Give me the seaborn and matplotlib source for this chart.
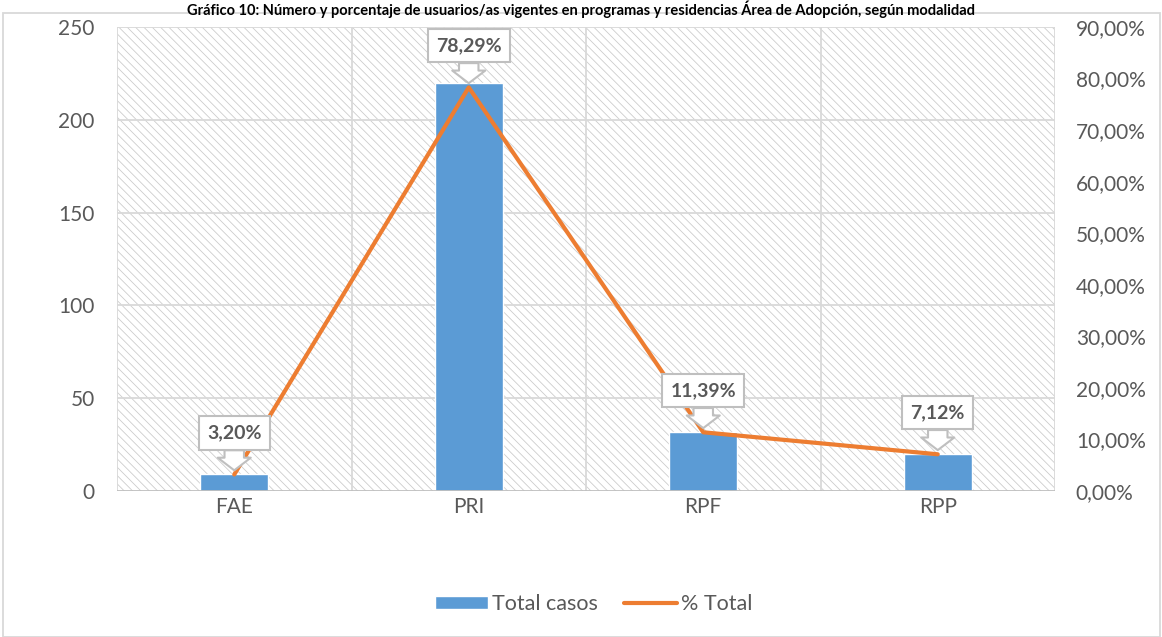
import numpy as np
import matplotlib
matplotlib.use("Agg")
import matplotlib.pyplot as plt
import seaborn as sns
from matplotlib.patches import Rectangle
from matplotlib.ticker import FuncFormatter

# datos
categorias = ["FAE", "PRI", "RPF", "RPP"]
total_casos = [9, 220, 32, 20]
pct_total = [3.20, 78.29, 11.39, 7.12]
etiquetas = ["3,20%", "78,29%", "11,39%", "7,12%"]

titulo = ("Gráfico 10: Número y porcentaje de usuarios/as vigentes en programas "
          "y residencias Área de Adopción, según modalidad")

sns.set_style("white")
plt.rcParams['font.family'] = ['Lato', 'DejaVu Sans']
plt.rcParams['hatch.linewidth'] = 0.6
plt.rcParams['hatch.color'] = '#CCCCCC'

azul = '#5B9BD5'
naranja = '#ED7D31'
gris_txt = '#595959'
gris_linea = '#D9D9D9'

fig = plt.figure(figsize=(11.62, 6.37), dpi=100)
ax = fig.add_axes([117/1162, 1-491/637, (1055-117)/1162, (491-27)/637])

# fondo rayado
ax.patch.set_facecolor('white')
ax.add_patch(Rectangle((0, 0), 1, 1, transform=ax.transAxes, facecolor='white',
                       edgecolor='#CCCCCC', hatch='\\\\\\\\', lw=0, zorder=0))

x = np.arange(len(categorias))
sns.barplot(x=x, y=total_casos, color=azul, width=0.29, saturation=1,
            ax=ax, zorder=3, label='Total casos')
if ax.get_legend() is not None:
    ax.get_legend().remove()
ax.set_xlim(-0.5, 3.5)
ax.set_ylim(0, 250)
ax.set_yticks(range(0, 251, 50))
ax.set_xticks(x)
ax.set_xticklabels(categorias)

# cuadricula
for yv in range(50, 251, 50):
    ax.axhline(yv, color=gris_linea, lw=1.3, zorder=1)
for xv in [-0.5, 0.5, 1.5, 2.5, 3.5]:
    ax.axvline(xv, color=gris_linea, lw=1.3, zorder=1)
for s in ax.spines.values():
    s.set_visible(False)
ax.axhline(0, color='#BFBFBF', lw=1.3, zorder=4)

ax.tick_params(axis='both', length=0, labelsize=15, colors=gris_txt)
ax.tick_params(axis='y', pad=16)
ax.tick_params(axis='x', pad=4)

ax2 = ax.twinx()
sns.lineplot(x=x, y=pct_total, color=naranja, lw=3, ax=ax2, zorder=5,
             label='% Total', legend=False, solid_capstyle='round')
ax2.set_ylim(0, 90)
ax2.set_yticks(range(0, 91, 10))
ax2.yaxis.set_major_formatter(FuncFormatter(lambda v, p: f"{v:.2f}%".replace('.', ',')))
ax2.tick_params(axis='y', length=0, labelsize=15, colors=gris_txt, pad=15)
for s in ax2.spines.values():
    s.set_visible(False)

for xi, yi, lab in zip(x, pct_total, etiquetas):
    ax2.annotate(lab, xy=(xi, yi), xytext=(0, 30), textcoords='offset points',
                 ha='center', va='center', fontsize=14, fontweight='bold',
                 color=gris_txt, zorder=6,
                 bbox=dict(boxstyle='square,pad=0.42', fc='white', ec='#BFBFBF', lw=1.5),
                 arrowprops=dict(arrowstyle='simple,head_length=0.65,head_width=1.7,tail_width=1.0',
                                 fc='white', ec='#BFBFBF', lw=1.5, shrinkA=0, shrinkB=3))

# leyenda
h1, l1 = ax.get_legend_handles_labels()
h2, l2 = ax2.get_legend_handles_labels()
fig.legend(h1 + h2, l1 + l2, loc='center', bbox_to_anchor=(594/1162, 1-604/637),
           ncol=2, frameon=False, fontsize=15.5, handlelength=2.45, handleheight=0.55,
           handletextpad=0.2, columnspacing=1.2, labelcolor=gris_txt)

# marco del grafico
fig.add_artist(Rectangle((3/1162, 0), 1157/1162, 1-13/637, transform=fig.transFigure,
                         fill=False, edgecolor='#D9D9D9', lw=1.3))

fig.text(0.5, 1-1/637, titulo, ha='center', va='top', fontsize=10.5,
         fontweight='bold', color='black')

fig.savefig('out.png', dpi=100)
